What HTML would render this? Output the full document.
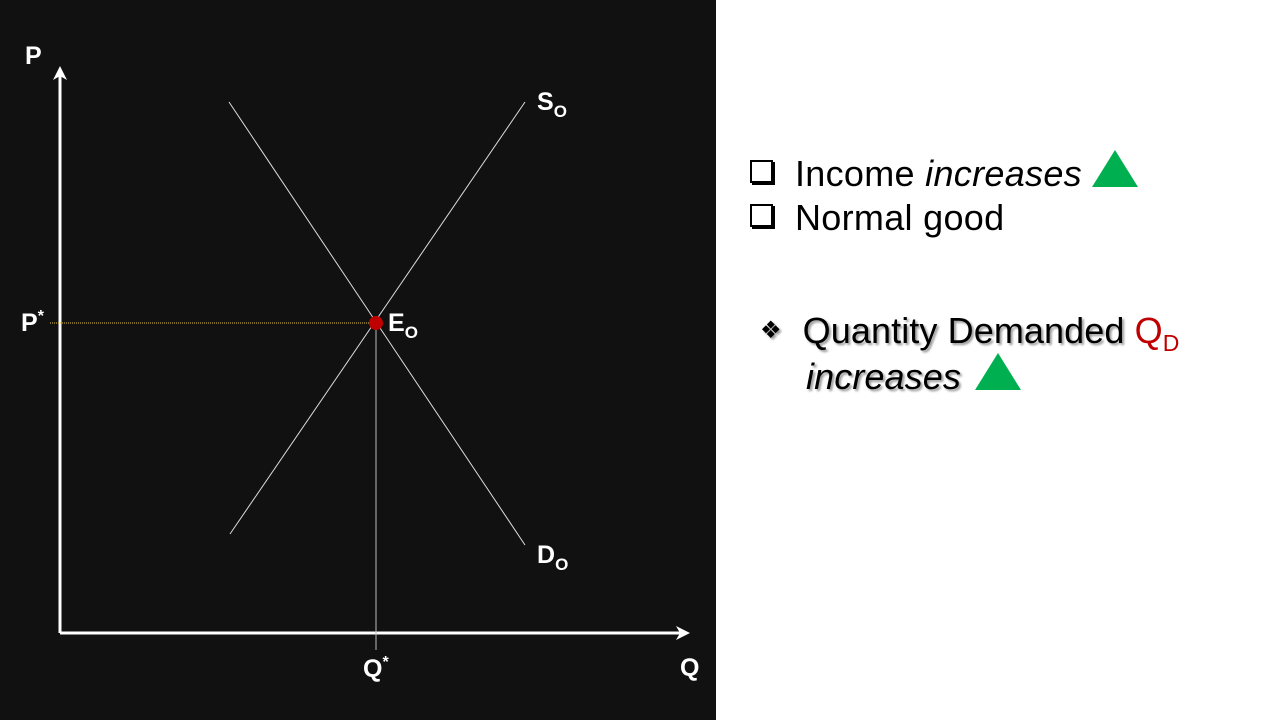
<!DOCTYPE html>
<html><head><meta charset="utf-8"><style>
html,body{margin:0;padding:0;width:1280px;height:720px;overflow:hidden;background:#fff;font-family:"Liberation Sans",sans-serif}
#panel{position:absolute;left:0;top:0;width:716px;height:720px;background:#111}
svg{position:absolute;left:0;top:0}
.t{position:absolute;font-size:36px;color:#000;white-space:nowrap;letter-spacing:0.3px}
.tri{display:inline-block;width:0;height:0;border-left:23px solid transparent;border-right:23px solid transparent;border-bottom:37px solid #00b050;vertical-align:-1px}
.box{display:inline-block;width:19px;height:19px;border:2px solid #000;box-shadow:2px 2px 0 #000;margin-right:22px;vertical-align:3px}
</style></head><body>
<div id="panel"></div>
<svg id="chart" width="716" height="720"></svg>
<div class="t" style="left:750px;top:150px;line-height:45px"><span class="box"></span>Income <i>increases</i> <span class="tri"></span></div>
<div class="t" style="left:750px;top:195px;line-height:45px"><span class="box"></span>Normal good</div>
<div class="t" style="left:760px;top:309px;line-height:44px;text-shadow:2px 2px 2px #999;letter-spacing:0.1px"><span style="font-size:24px;margin-right:21px;vertical-align:5px">❖</span>Quantity Demanded <span style="color:#c00000;text-shadow:none">Q<sub style="font-size:23px;line-height:0">D</sub></span><br><span style="margin-left:46px"><i>increases</i> <span class="tri" style="text-shadow:none;margin-left:4px"></span></span></div>
<script>
const originX=60, originY=633;
const supplyQ=[170,465], supplyP=[99,531];
const demandQ=[169,465], demandP=[531,88];
const eqQ=[316], eqP=[310];
const sx=q=>originX+q, sy=p=>originY-p;
const svg=document.getElementById('chart');
const NS='http://www.w3.org/2000/svg';
function mk(tag,attrs){const e=document.createElementNS(NS,tag);for(const k in attrs)e.setAttribute(k,attrs[k]);svg.appendChild(e);return e;}
function txt(x,y,s,sub,name){const e=mk('text',{x:x,y:y,fill:'#fff','font-size':25,'font-weight':'bold','font-family':'Liberation Sans, sans-serif'});e.textContent=s;if(sub){const t=document.createElementNS(NS,'tspan');t.setAttribute('font-size',sub==='*'?16:17);t.setAttribute('dy',sub==='*'?-10:7);t.textContent=sub==='*'?'*':sub;e.appendChild(t);}


return e;}
let a=mk('line',{x1:originX,y1:originY,x2:originX,y2:72,stroke:'#fff','stroke-width':3});


a=mk('polygon',{points:'53,80 60,66 67,80 60,76',fill:'#fff'});


a=mk('line',{x1:originX,y1:originY,x2:684,y2:originY,stroke:'#fff','stroke-width':3});


a=mk('polygon',{points:'676,626 690,633 676,640 680,633',fill:'#fff'});


a=mk('line',{x1:50,y1:sy(eqP[0]),x2:sx(eqQ[0]),y2:sy(eqP[0]),stroke:'#e8c440','stroke-width':1,'stroke-dasharray':'1,1'});


a=mk('line',{x1:sx(eqQ[0]),y1:sy(eqP[0]),x2:sx(eqQ[0]),y2:650,stroke:'#bbb','stroke-width':1});


a=mk('line',{x1:sx(supplyQ[0]),y1:sy(supplyP[0]),x2:sx(supplyQ[1]),y2:sy(supplyP[1]),stroke:'#ddd','stroke-width':1});


a=mk('line',{x1:sx(demandQ[0]),y1:sy(demandP[0]),x2:sx(demandQ[1]),y2:sy(demandP[1]),stroke:'#ddd','stroke-width':1});


a=mk('circle',{cx:sx(eqQ[0]),cy:sy(eqP[0]),r:7,fill:'#c00000'});


txt(25,64,'P','', 'y-axis-title');
txt(680,676,'Q','', 'x-axis-title');
txt(21,331,'P','*','p-star-label');
txt(363,677,'Q','*','q-star-label');
txt(537,110,'S','O','supply-label');
txt(537,563,'D','O','demand-label');
txt(388,331,'E','O','equilibrium-label');
</script>
</body></html>
